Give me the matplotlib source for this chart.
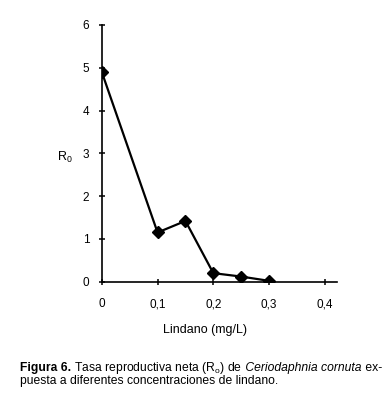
import matplotlib.pyplot as plt

plt.rcParams['font.family'] = 'Liberation Sans'
plt.rcParams['mathtext.fontset'] = 'custom'
plt.rcParams['mathtext.rm'] = 'Liberation Sans'
plt.rcParams['mathtext.it'] = 'Liberation Sans:italic'
plt.rcParams['mathtext.bf'] = 'Liberation Sans:bold'

# lindane concentration (mg/L) and net reproductive rate R0
lindano = [0, 0.1, 0.15, 0.2, 0.25, 0.3]
r0 = [4.9, 1.15, 1.42, 0.2, 0.12, 0.02]
xticks = [0, 0.1, 0.2, 0.3, 0.4]
xlabels = ['0', '0,1', '0,2', '0,3', '0,4']
yticks = [0, 1, 2, 3, 4, 5, 6]

fig = plt.figure(figsize=(3.9, 4.01), dpi=100)
ax = fig.add_axes([0.261, 0.2975, 0.602, 0.6402])

ax.plot(lindano, r0, color='black', lw=1.6, marker='D', markersize=6.5)

ax.set_xlim(0, 0.421)
ax.set_ylim(0, 6)
ax.set_xticks(xticks)
ax.set_xticklabels(xlabels)
ax.set_yticks(yticks)
ax.tick_params(axis='both', direction='inout', length=4, width=1.1, labelsize=8.5)
ax.tick_params(axis='x', pad=10)
ax.tick_params(axis='y', pad=7)

for s in ['top', 'right']:
    ax.spines[s].set_visible(False)
for s in ['left', 'bottom']:
    ax.spines[s].set_linewidth(1.2)

fig.text(65 / 390, 1 - 157 / 401, r'R$_0$', fontsize=9, ha='center', va='center')
fig.text(205 / 390, 1 - 330 / 401, 'Lindano (mg/L)', fontsize=9, ha='center', va='center')

# caption, first line built from pieces with different styles
renderer = fig.canvas.get_renderer()
pieces = [('Figura 6.', 'bold', 'normal'),
          (' Tasa reproductiva neta (R$_\\mathrm{o}$) de', 'normal', 'normal'),
          (' Ceriodaphnia cornuta', 'normal', 'italic'),
          (' ex-', 'normal', 'normal')]
x = 20 / 390
y = 1 - 371 / 401
for txt, weight, style in pieces:
    t = fig.text(x, y, txt, fontsize=8.7, fontweight=weight, fontstyle=style,
                 ha='left', va='baseline')
    bb = t.get_window_extent(renderer)
    x += bb.width / fig.bbox.width
fig.text(20 / 390, 1 - 384 / 401, 'puesta a diferentes concentraciones de lindano.',
         fontsize=8.7, ha='left', va='baseline')

fig.savefig('out.png', dpi=100)
